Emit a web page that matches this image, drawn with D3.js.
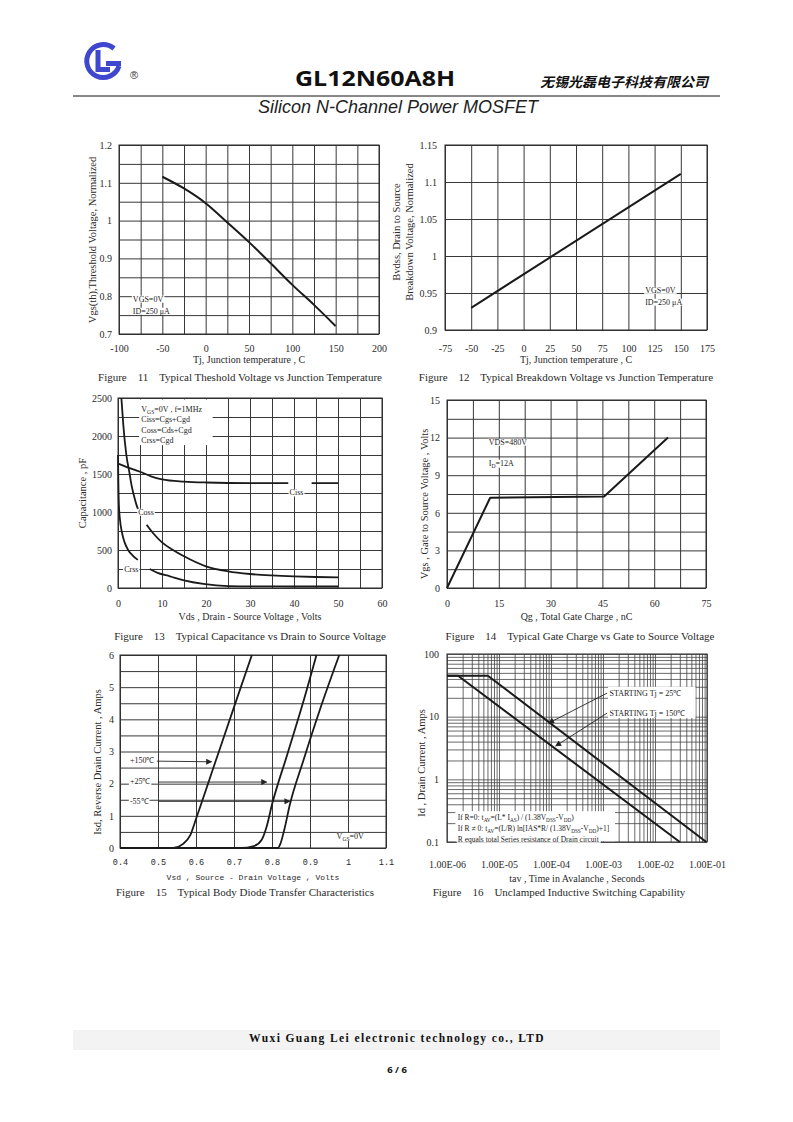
<!DOCTYPE html>
<html>
<head>
<meta charset="utf-8">
<script src="https://cdn.jsdelivr.net/npm/d3@7"></script>
<style>
body { margin: 0; background: #fff; }
svg { display: block; }
</style>
</head>
<body>
<svg id="page" width="793" height="1122"></svg>
<script>
// ---- figure 11 : threshold voltage vs Tj
var f11Temp = [-50, -25, 0, 25, 50, 75, 100, 125, 150];
var f11Vth = [1.116, 1.085, 1.046, 0.995, 0.943, 0.887, 0.830, 0.777, 0.721];
var f11XTicks = [-100, -50, 0, 50, 100, 150, 200];
var f11YTicks = [0.7, 0.8, 0.9, 1, 1.1, 1.2];

// ---- figure 12 : breakdown voltage vs Tj
var f12Temp = [-50, 150];
var f12Bv = [0.930, 1.111];
var f12XTicks = [-75, -50, -25, 0, 25, 50, 75, 100, 125, 150, 175];
var f12YTicks = [0.9, 0.95, 1, 1.05, 1.1, 1.15];

// ---- figure 13 : capacitance vs Vds (null = gap left for the label)
var f13CissV = [0, 2.5, 5, 7.5, 10, 15, 20, 30, 38.7, 41, 44, 50];
var f13Ciss = [1636, 1580, 1530, 1470, 1430, 1400, 1388, 1380, 1380, null, 1380, 1380];
var f13CossV = [0.77, 1.2, 1.9, 2.65, 3.05, 3.6, 4.2, 4.6, 5.5, 6.5, 8, 10, 12.5, 15, 20, 25, 30, 35, 40, 45, 50];
var f13Coss = [2500, 2150, 1750, 1500, 1360, 1220, 1094, 1030, null, 833, 720, 600, 500, 417, 285, 219, 184, 165, 153, 145, 140];
var f13CrssV = [0, 0.08, 0.2, 0.45, 0.9, 1.5, 2.3, 3.3, 4.5, 5.8, 7.2, 9, 11.8, 15, 19.4, 25, 30, 40, 50];
var f13Crss = [1750, 1400, 1100, 900, 730, 600, 500, 430, 370, null, 250, 200, 154, 100, 53, 25, 22, 20, 20];
var f13XTicks = [0, 10, 20, 30, 40, 50, 60];
var f13YTicks = [0, 500, 1000, 1500, 2000, 2500];

// ---- figure 14 : gate charge
var f14Qg = [0, 12.5, 45.5, 64];
var f14Vgs = [0, 7.2, 7.3, 12];
var f14XTicks = [0, 15, 30, 45, 60, 75];
var f14YTicks = [0, 3, 6, 9, 12, 15];

// ---- figure 15 : body diode
var f15VsdHot = [0.4, 0.54, 0.565, 0.585, 0.6, 0.65, 0.7, 0.747];
var f15IsdHot = [0, 0, 0.12, 0.4, 0.9, 2.64, 4.38, 6];
var f15VsdRoom = [0.4, 0.72, 0.75, 0.773, 0.786, 0.8, 0.84, 0.88, 0.917];
var f15IsdRoom = [0, 0, 0.05, 0.26, 0.67, 1.35, 2.9, 4.45, 6];
var f15VsdCold = [0.4, 0.815, 0.822, 0.832, 0.847, 0.882, 0.926, 0.977];
var f15IsdCold = [0, 0, 0.13, 0.55, 1.35, 2.7, 4.3, 6];
var f15XTicks = [0.4, 0.5, 0.6, 0.7, 0.8, 0.9, 1, 1.1];
var f15XLabels = ['0.4', '0.5', '0.6', '0.7', '0.8', '0.9', '1', '1.1'];
var f15YTicks = [0, 1, 2, 3, 4, 5, 6];

// ---- figure 16 : UIS
var f16Tav25 = [1e-6, 6.1e-6, 9.7e-2];
var f16Id25 = [45, 45, 0.1];
var f16Tav150 = [1e-6, 1.63e-6, 3.0e-2];
var f16Id150 = [45, 45, 0.1];
var f16XTicks = [1e-6, 1e-5, 1e-4, 1e-3, 1e-2, 1e-1];
var f16XLabels = ['1.00E-06', '1.00E-05', '1.00E-04', '1.00E-03', '1.00E-02', '1.00E-01'];
var f16YTicks = [0.1, 1, 10, 100];
var f16YLabels = ['0.1', '1', '10', '100'];

var SERIF = "'Liberation Serif','Times New Roman',serif";
var MONO = "'Liberation Mono','DejaVu Sans Mono',monospace";
var SANS = "'Liberation Sans',Arial,sans-serif";
var INK = '#1a1a1a';

var svg = d3.select('#page');

function zip(xs, ys) {
	return xs.map(function(v, i) { return {x: v, y: ys[i]}; });
}

function panel(o) {
	var x = (o.log ? d3.scaleLog() : d3.scaleLinear()).domain(o.xd).range([o.l, o.r]);
	var y = (o.log ? d3.scaleLog() : d3.scaleLinear()).domain(o.yd).range([o.b, o.t]);
	var w = o.r - o.l, h = o.b - o.t;
	var g = svg.append('g');

	var gx = g.append('g')
		.attr('transform', 'translate(0,' + o.b + ')')
		.call(d3.axisBottom(x).tickValues(o.xg).tickSize(-h).tickFormat(''));
	var gy = g.append('g')
		.attr('transform', 'translate(' + o.l + ',0)')
		.call(d3.axisLeft(y).tickValues(o.yg).tickSize(-w).tickFormat(''));
	[gx, gy].forEach(function(s) {
		s.select('.domain').remove();
		s.selectAll('line').attr('stroke', o.gc || '#383838').attr('stroke-width', o.gw || 1);
	});

	var lx = g.append('g')
		.attr('transform', 'translate(0,' + o.b + ')')
		.call(d3.axisBottom(x).tickValues(o.xt).tickSize(0).tickPadding(o.xpad)
			.tickFormat(function(d, i) { return o.xl ? o.xl[i] : String(d); }));
	var ly = g.append('g')
		.attr('transform', 'translate(' + o.l + ',0)')
		.call(d3.axisLeft(y).tickValues(o.yt).tickSize(0).tickPadding(o.ypad)
			.tickFormat(function(d, i) { return o.yl ? o.yl[i] : String(d); }));
	[lx, ly].forEach(function(s) {
		s.select('.domain').remove();
		s.attr('font-family', SERIF).attr('font-size', 10);
		s.selectAll('text').attr('fill', '#2a2a2a');
	});
	if (o.xfont) lx.attr('font-family', o.xfont).attr('font-size', o.xfs);

	g.append('rect')
		.attr('x', o.l).attr('y', o.t).attr('width', w).attr('height', h)
		.attr('fill', 'none').attr('stroke', '#2a2a2a').attr('stroke-width', 1);

	// axis titles and caption
	g.append('text')
		.attr('x', (o.l + o.r) / 2).attr('y', o.xtY)
		.attr('text-anchor', 'middle').attr('font-family', o.xfont || SERIF)
		.attr('font-size', o.xtfs || 10).attr('fill', '#2a2a2a')
		.text(o.xTitle);
	o.yTitle.forEach(function(t, i) {
		g.append('text')
			.attr('transform', 'translate(' + o.ytX[i] + ',' + o.ytY + ') rotate(-90)')
			.attr('text-anchor', 'middle').attr('dy', '0.35em')
			.attr('font-family', SERIF).attr('font-size', 10.5).attr('fill', '#2a2a2a')
			.text(t);
	});
	g.append('text')
		.attr('x', o.capX).attr('y', o.capY)
		.attr('text-anchor', 'middle').attr('font-family', SERIF)
		.attr('font-size', 11).attr('fill', '#2a2a2a')
		.attr('xml:space', 'preserve').style('white-space', 'pre')
		.text(o.caption);
	return {x: x, y: y, g: g};
}

function curve(p, xs, ys, smooth, sw) {
	var line = d3.line()
		.defined(function(d) { return d.y !== null; })
		.x(function(d) { return p.x(d.x); })
		.y(function(d) { return p.y(d.y); })
		.curve(smooth ? d3.curveMonotoneX : d3.curveLinear);
	p.g.append('path')
		.datum(zip(xs, ys))
		.attr('d', line)
		.attr('fill', 'none').attr('stroke', INK)
		.attr('stroke-width', sw || 1.8).attr('stroke-linejoin', 'round');
}

// text with optional subscripts: parts are strings or {sub: '..'}
function note(p, xv, yv, parts, size, anchor) {
	var fs = size || 8;
	var t = p.g.append('text')
		.attr('x', p.x(xv)).attr('y', p.y(yv)).attr('dy', '0.35em')
		.attr('font-family', SERIF).attr('font-size', fs).attr('fill', '#222')
		.attr('text-anchor', anchor || 'start');
	var shifted = false;
	parts.forEach(function(s) {
		if (typeof s === 'string') {
			t.append('tspan').attr('dy', shifted ? -fs * 0.25 : null).text(s);
			shifted = false;
		} else {
			t.append('tspan').attr('font-size', fs * 0.7).attr('dy', fs * 0.25).text(s.sub);
			shifted = true;
		}
	});
	var b = t.node().getBBox();
	p.g.insert('rect', function() { return t.node(); })
		.attr('x', b.x - 1).attr('y', b.y + 1).attr('width', b.width + 2).attr('height', b.height - 2)
		.attr('fill', '#fff');
	return t;
}

// white panel behind a group of notes, given in data units
function blank(p, x0, y0, x1, y1) {
	p.g.append('rect')
		.attr('x', p.x(x0)).attr('y', p.y(y0))
		.attr('width', p.x(x1) - p.x(x0)).attr('height', p.y(y1) - p.y(y0))
		.attr('fill', '#fff');
}

function arrow(p, x1, y1, x2, y2) {
	p.g.append('line')
		.attr('x1', p.x(x1)).attr('y1', p.y(y1)).attr('x2', p.x(x2)).attr('y2', p.y(y2))
		.attr('stroke', '#222').attr('stroke-width', 0.9)
		.attr('marker-end', 'url(#head)');
}

svg.append('defs').append('marker')
	.attr('id', 'head').attr('viewBox', '0 0 10 10')
	.attr('refX', 9).attr('refY', 5)
	.attr('markerUnits', 'userSpaceOnUse')
	.attr('markerWidth', 8).attr('markerHeight', 6).attr('orient', 'auto')
	.append('path').attr('d', 'M0,0 L10,5 L0,10 z').attr('fill', '#222');

// ---------------- header
var logo = svg.append('g').attr('fill', 'none').attr('stroke', '#3f47cf').attr('stroke-width', 5);
logo.append('path').attr('d', 'M114,48.5 A16.5,16.5 0 1 0 119,66');
logo.append('path').attr('d', 'M121,63.5 H106');
logo.append('path').attr('d', 'M98,50 V69.5 H110');
svg.append('text').attr('x', 130).attr('y', 79).attr('font-family', SANS).attr('font-size', 11)
	.attr('fill', '#333').text('®');
svg.append('text').attr('x', 375).attr('y', 86).attr('text-anchor', 'middle')
	.attr('font-family', "'Open Sans',sans-serif").attr('font-weight', 700).attr('font-size', 22)
	.attr('textLength', 160).attr('lengthAdjust', 'spacingAndGlyphs')
	.attr('fill', '#111').text('GL12N60A8H');
svg.append('text').attr('x', 540).attr('y', 87)
	.attr('font-family', "'Noto Sans CJK SC',sans-serif").attr('font-weight', 700)
	.attr('font-style', 'italic').attr('font-size', 13.5)
	.attr('textLength', 168).attr('lengthAdjust', 'spacingAndGlyphs')
	.attr('fill', '#111').text('无锡光磊电子科技有限公司');
svg.append('line').attr('x1', 73).attr('x2', 720).attr('y1', 96).attr('y2', 96)
	.attr('stroke', '#111').attr('stroke-width', 1);
svg.append('text').attr('x', 398).attr('y', 113).attr('text-anchor', 'middle')
	.attr('font-family', SANS).attr('font-style', 'italic').attr('font-size', 18)
	.attr('fill', '#222').text('Silicon N-Channel Power MOSFET');

// ---------------- figure 11
var p11 = panel({
	l: 119, r: 379, t: 145, b: 334, xd: [-100, 200], yd: [0.7, 1.2],
	xg: d3.range(-100, 201, 25), yg: d3.range(0, 11).map(function(i) { return 0.7 + i * 0.05; }),
	xt: f11XTicks, yt: f11YTicks, xpad: 11, ypad: 7,
	xTitle: 'Tj, Junction temperature , C', xtY: 363,
	yTitle: ['Vgs(th),Threshold Voltage, Normalized'], ytX: [92], ytY: 240,
	caption: 'Figure    11    Typical Theshold Voltage vs Junction Temperature', capX: 240, capY: 381
});
curve(p11, f11Temp, f11Vth, true, 2);
note(p11, -84, 0.793, ['VGS=0V']);
note(p11, -84, 0.761, ['ID=250 μA']);

// ---------------- figure 12
var p12 = panel({
	l: 445, r: 707, t: 145, b: 330, xd: [-75, 175], yd: [0.9, 1.15],
	xg: d3.range(-75, 176, 25), yg: f12YTicks,
	xt: f12XTicks, yt: f12YTicks, xpad: 15, ypad: 8,
	xTitle: 'Tj, Junction temperature , C', xtY: 363,
	yTitle: ['Bvdss, Drain to Source', 'Breakdown Voltage, Normalized'], ytX: [396, 409], ytY: 232,
	caption: 'Figure    12    Typical Breakdown Voltage vs Junction Temperature', capX: 566, capY: 381
});
curve(p12, f12Temp, f12Bv, false, 2);
note(p12, 116, 0.954, ['VGS=0V']);
note(p12, 116, 0.938, ['ID=250 μA']);

// ---------------- figure 13
var p13 = panel({
	l: 118, r: 382, t: 398, b: 588, xd: [0, 60], yd: [0, 2500],
	xg: d3.range(0, 61, 5), yg: d3.range(0, 2501, 250),
	xt: f13XTicks, yt: f13YTicks, xpad: 12, ypad: 6,
	xTitle: 'Vds , Drain - Source Voltage , Volts', xtY: 620,
	yTitle: ['Capacitance , pF'], ytX: [82], ytY: 493,
	caption: 'Figure    13    Typical Capacitance vs Drain to Source Voltage', capX: 250, capY: 640
});
curve(p13, f13CissV, f13Ciss, true);
curve(p13, f13CossV, f13Coss, true);
curve(p13, f13CrssV, f13Crss, true);
blank(p13, 4.8, 2480, 21.5, 1880);
note(p13, 5.3, 2355, ['V', {sub: 'GS'}, '=0V , f=1MHz']);
note(p13, 5.3, 2215, ['Ciss=Cgs+Cgd']);
note(p13, 5.3, 2080, ['Coss=Cds+Cgd']);
note(p13, 5.3, 1945, ['Crss=Cgd']);
note(p13, 39, 1255, ['Ciss']);
note(p13, 4.6, 1000, ['Coss']);
note(p13, 1.4, 245, ['Crss']);

// ---------------- figure 14
var p14 = panel({
	l: 447, r: 706, t: 400, b: 588, xd: [0, 75], yd: [0, 15],
	xg: d3.range(0, 76, 7.5), yg: d3.range(0, 16, 1.5),
	xt: f14XTicks, yt: f14YTicks, xpad: 12, ypad: 7,
	xTitle: 'Qg , Total Gate Charge , nC', xtY: 620,
	yTitle: ['Vgs , Gate to Source Voltage , Volts'], ytX: [424], ytY: 504,
	caption: 'Figure    14    Typical Gate Charge vs Gate to Source Voltage', capX: 580, capY: 640
});
curve(p14, f14Qg, f14Vgs, false, 2);
note(p14, 12.1, 11.65, ['VDS=480V']);
note(p14, 12.1, 9.98, ['I', {sub: 'D'}, '=12A']);

// ---------------- figure 15
var p15 = panel({
	l: 120, r: 386, t: 655, b: 848, xd: [0.4, 1.1], yd: [0, 6],
	xg: f15XTicks, yg: d3.range(0, 6.01, 0.5),
	xt: f15XTicks, xl: f15XLabels, yt: f15YTicks, xpad: 11, ypad: 6,
	xfont: MONO, xfs: 8.5, xtfs: 8,
	xTitle: 'Vsd , Source - Drain Voltage , Volts', xtY: 880,
	yTitle: ['Isd, Reverse Drain Current , Amps'], ytX: [97], ytY: 762,
	caption: 'Figure    15    Typical Body Diode Transfer Characteristics', capX: 245, capY: 896
});
curve(p15, f15VsdHot, f15IsdHot, true);
curve(p15, f15VsdRoom, f15IsdRoom, true);
curve(p15, f15VsdCold, f15IsdCold, true);
arrow(p15, 0.497, 2.70, 0.641, 2.68);
arrow(p15, 0.5, 2.05, 0.786, 2.05);
arrow(p15, 0.5, 1.45, 0.847, 1.45);
note(p15, 0.426, 2.72, ['+150℃']);
note(p15, 0.426, 2.07, ['+25℃']);
note(p15, 0.426, 1.47, ['-55℃']);
note(p15, 0.97, 0.37, ['V', {sub: 'GS'}, '=0V']);

// ---------------- figure 16
var f16Grid = function(lo, hi) {
	var v = [];
	for (var e = lo; e < hi; e++) for (var k = 1; k < 10; k++) v.push(k * Math.pow(10, e));
	v.push(Math.pow(10, hi));
	return v;
};
var p16 = panel({
	log: true, l: 447, r: 707, t: 654, b: 842, xd: [1e-6, 1e-1], yd: [0.1, 100],
	xg: f16Grid(-6, -1), yg: f16Grid(-1, 2), gc: '#444', gw: 0.8,
	xt: f16XTicks, xl: f16XLabels, yt: f16YTicks, yl: f16YLabels, xpad: 19, ypad: 8,
	xTitle: 'tav , Time in Avalanche , Seconds', xtY: 882,
	yTitle: ['Id , Drain Current , Amps'], ytX: [421], ytY: 763,
	caption: 'Figure    16    Unclamped Inductive Switching Capability', capX: 559, capY: 896
});
curve(p16, f16Tav25, f16Id25, false, 2);
curve(p16, f16Tav150, f16Id150, false, 2);
blank(p16, 1.25e-3, 30, 6e-2, 9.5);
arrow(p16, 1.2e-3, 23.8, 9.0e-5, 7.9);
arrow(p16, 1.2e-3, 11.4, 1.23e-4, 3.4);
note(p16, 1.33e-3, 23.8, ['STARTING Tj = 25℃']);
note(p16, 1.33e-3, 11.4, ['STARTING Tj = 150℃']);
blank(p16, 1.45e-6, 0.31, 1.7e-3, 0.103);
note(p16, 1.61e-6, 0.248, ['If R=0: t', {sub: 'AV'}, '=(L* I', {sub: 'AS'}, ') / (1.38V', {sub: 'DSS'}, '-V', {sub: 'DD'}, ')'], 7.5);
note(p16, 1.61e-6, 0.166, ['If R ≠ 0: t', {sub: 'AV'}, '=(L/R) ln[IAS*R/ (1.38V', {sub: 'DSS'}, '-V', {sub: 'DD'}, ')+1]'], 7.5);
note(p16, 1.61e-6, 0.111, ['R equals total Series resistance of Drain circuit'], 7.5);

// ---------------- footer
svg.append('rect').attr('x', 73).attr('y', 1030).attr('width', 647).attr('height', 20).attr('fill', '#f3f3f3');
svg.append('text').attr('x', 397).attr('y', 1042).attr('text-anchor', 'middle')
	.attr('font-family', SERIF).attr('font-weight', 700).attr('font-size', 11.5)
	.attr('letter-spacing', 1.4).attr('fill', '#111')
	.text('Wuxi Guang Lei electronic technology co., LTD');
svg.append('text').attr('x', 397).attr('y', 1073).attr('text-anchor', 'middle')
	.attr('font-family', "'Open Sans',sans-serif").attr('font-weight', 700).attr('font-size', 9.5)
	.attr('fill', '#111').text('6 / 6');
</script>
</body>
</html>
